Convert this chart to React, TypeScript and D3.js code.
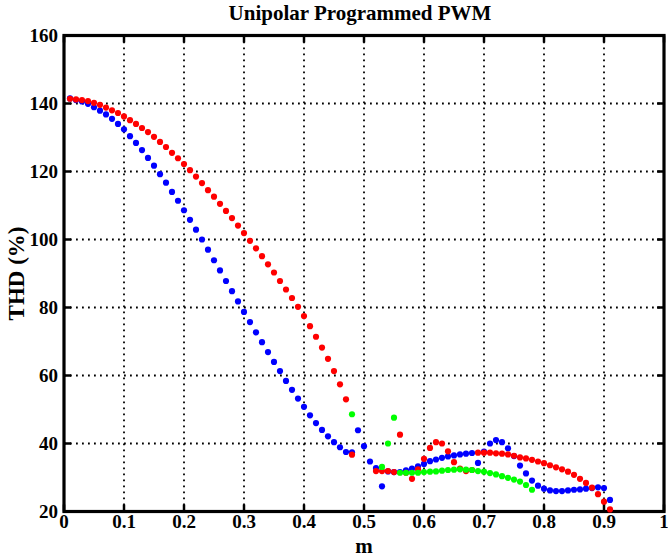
import React from "react";
import * as d3 from "d3";

// Modulation index samples
const mValues = [
  0.01, 0.02, 0.03, 0.04, 0.05, 0.06, 0.07, 0.08, 0.09, 0.1,
  0.11, 0.12, 0.13, 0.14, 0.15, 0.16, 0.17, 0.18, 0.19, 0.2,
  0.21, 0.22, 0.23, 0.24, 0.25, 0.26, 0.27, 0.28, 0.29, 0.3,
  0.31, 0.32, 0.33, 0.34, 0.35, 0.36, 0.37, 0.38, 0.39, 0.4,
  0.41, 0.42, 0.43, 0.44, 0.45, 0.46, 0.47, 0.48, 0.49, 0.5,
  0.51, 0.52, 0.53, 0.54, 0.55, 0.56, 0.57, 0.58, 0.59, 0.6,
  0.61, 0.62, 0.63, 0.64, 0.65, 0.66, 0.67, 0.68, 0.69, 0.7,
  0.71, 0.72, 0.73, 0.74, 0.75, 0.76, 0.77, 0.78, 0.79, 0.8,
  0.81, 0.82, 0.83, 0.84, 0.85, 0.86, 0.87, 0.88, 0.89, 0.9,
  0.91,
];

// THD (%) of the first solution set
const redTHD: (number | null)[] = [
  141.4, 141.2, 141.0, 140.7, 140.2, 139.6, 138.8, 138.0, 137.2, 136.2,
  135.1, 134.0, 132.8, 131.6, 130.2, 128.7, 127.2, 125.5, 123.9, 122.2,
  120.4, 118.5, 116.6, 114.5, 112.6, 110.5, 108.4, 106.3, 104.1, 101.9,
  99.6, 97.4, 95.1, 92.7, 90.3, 87.8, 85.3, 82.8, 80.2, 77.5,
  74.5, 71.4, 68.2, 64.9, 61.3, 57.4, 53.0, 36.7, null, null,
  null, 31.9, 31.9, 31.9, 31.6, 42.6, 31.4, 29.6, 32.4, 35.5,
  38.7, 40.4, 40.0, 37.7, 34.5, 32.6, 31.9, 32.2, 37.3, 37.3,
  37.3, 37.1, 37.0, 36.8, 36.4, 35.9, 35.6, 35.2, 34.7, 34.2,
  33.6, 33.0, 32.4, 31.7, 30.8, 29.6, 28.4, 27.0, 25.1, 22.9,
  20.6,
];

// THD (%) of the second solution set
const blueTHD: (number | null)[] = [
  141.5, 141.0, 140.6, 139.9, 138.9, 137.9, 136.8, 135.5, 134.0, 132.4,
  130.4, 128.4, 126.3, 124.0, 121.7, 119.2, 116.7, 114.0, 111.4, 108.6,
  105.8, 102.9, 100.0, 97.0, 93.9, 90.9, 87.8, 84.8, 81.8, 78.7,
  75.7, 72.7, 69.8, 66.9, 64.0, 61.3, 58.4, 55.8, 53.2, 50.8,
  48.3, 46.0, 44.0, 42.1, 40.4, 38.9, 37.5, 37.4, 43.9, 39.2,
  34.7, 32.8, 27.4, 31.8, 31.6, 31.6, 32.1, 32.6, 33.3, 34.0,
  34.8, 35.3, 35.8, 36.2, 36.5, 36.8, 37.0, 37.2, 34.3, 37.6,
  40.0, 41.0, 40.4, 38.6, 36.3, 33.5, 31.2, 29.1, 27.6, 26.7,
  26.2, 26.0, 26.0, 26.2, 26.4, 26.5, 26.7, 26.9, 27.1, 26.9,
  23.4,
];

// Third solution set exists only over part of the range
const greenM = [
  0.48, 0.53, 0.54, 0.55, 0.56, 0.57, 0.58, 0.59, 0.6, 0.61,
  0.62, 0.63, 0.64, 0.65, 0.66, 0.67, 0.68, 0.69, 0.7, 0.71,
  0.72, 0.73, 0.74, 0.75, 0.76, 0.77, 0.78,
];
const greenTHD = [
  48.6, 33.1, 40.0, 47.6, 31.4, 31.4, 31.4, 31.4, 31.6, 31.7,
  31.8, 32.0, 32.2, 32.3, 32.4, 32.3, 32.2, 31.9, 31.7, 31.3,
  30.9, 30.4, 29.9, 29.4, 28.8, 27.8, 26.4,
];

const xTicks = [0, 0.1, 0.2, 0.3, 0.4, 0.5, 0.6, 0.7, 0.8, 0.9, 1];
const xTickLabels = ["0", "0.1", "0.2", "0.3", "0.4", "0.5", "0.6", "0.7", "0.8", "0.9", "1"];
const yTicks = [20, 40, 60, 80, 100, 120, 140, 160];

const W = 668;
const H = 557;
const left = 64;
const right = 664;
const top = 35.5;
const bottom = 511.5;

const font = "'Liberation Serif', 'Times New Roman', serif";

export default function App() {
  const x = d3.scaleLinear().domain([0, 1]).range([left, right]);
  const y = d3.scaleLinear().domain([20, 160]).range([bottom, top]);

  const series = [
    { color: "#0000ff", pts: mValues.map((m, i) => [m, blueTHD[i]] as [number, number | null]) },
    { color: "#ff0000", pts: mValues.map((m, i) => [m, redTHD[i]] as [number, number | null]) },
    { color: "#00ff00", pts: greenM.map((m, i) => [m, greenTHD[i]] as [number, number | null]) },
  ];

  const tickLen = 7;
  const r = 3.1;

  return (
    <svg
      width={W}
      height={H}
      style={{ position: "absolute", left: 0, top: 0, background: "#fff" }}
      fontFamily={font}
      fontWeight="bold"
    >
      <rect x={0} y={0} width={W} height={H} fill="#fff" />

      {/* dotted grid */}
      <g stroke="#000" strokeWidth={1.8} strokeDasharray="1.8 4.2">
        {xTicks.slice(1, -1).map((t) => (
          <line key={"gx" + t} x1={x(t)} x2={x(t)} y1={top} y2={bottom} />
        ))}
        {yTicks.slice(1, -1).map((t) => (
          <line key={"gy" + t} x1={left} x2={right} y1={y(t)} y2={y(t)} />
        ))}
      </g>

      {/* ticks on all four sides */}
      <g stroke="#000" strokeWidth={2.5}>
        {xTicks.map((t) => (
          <g key={"tx" + t}>
            <line x1={x(t)} x2={x(t)} y1={bottom} y2={bottom - tickLen} />
            <line x1={x(t)} x2={x(t)} y1={top} y2={top + tickLen} />
          </g>
        ))}
        {yTicks.map((t) => (
          <g key={"ty" + t}>
            <line x1={left} x2={left + tickLen} y1={y(t)} y2={y(t)} />
            <line x1={right} x2={right - tickLen} y1={y(t)} y2={y(t)} />
          </g>
        ))}
      </g>

      {/* axes box */}
      <rect
        x={left}
        y={top}
        width={right - left}
        height={bottom - top}
        fill="none"
        stroke="#000"
        strokeWidth={3.2}
      />

      {/* markers */}
      {series.map((s) => (
        <g key={s.color} fill={s.color}>
          {s.pts
            .filter((p) => p[1] !== null)
            .map((p) => (
              <circle key={p[0]} cx={x(p[0])} cy={y(p[1] as number)} r={r} />
            ))}
        </g>
      ))}

      {/* tick labels */}
      <g fontSize={19} fill="#000">
        {xTicks.map((t, i) => (
          <text key={"lx" + t} x={x(t)} y={528} textAnchor="middle">
            {xTickLabels[i]}
          </text>
        ))}
        {yTicks.map((t) => (
          <text key={"ly" + t} x={58} y={y(t)} dy="0.35em" textAnchor="end">
            {t}
          </text>
        ))}
      </g>

      {/* titles */}
      <text x={(left + right) / 2 - 4} y={20} textAnchor="middle" fontSize={21} fill="#000">
        Unipolar Programmed PWM
      </text>
      <text x={(left + right) / 2} y={553} textAnchor="middle" fontSize={21} fill="#000">
        m
      </text>
      <text
        transform={`translate(24, ${(top + bottom) / 2}) rotate(-90)`}
        textAnchor="middle"
        fontSize={23}
        fill="#000"
      >
        THD (%)
      </text>
    </svg>
  );
}
